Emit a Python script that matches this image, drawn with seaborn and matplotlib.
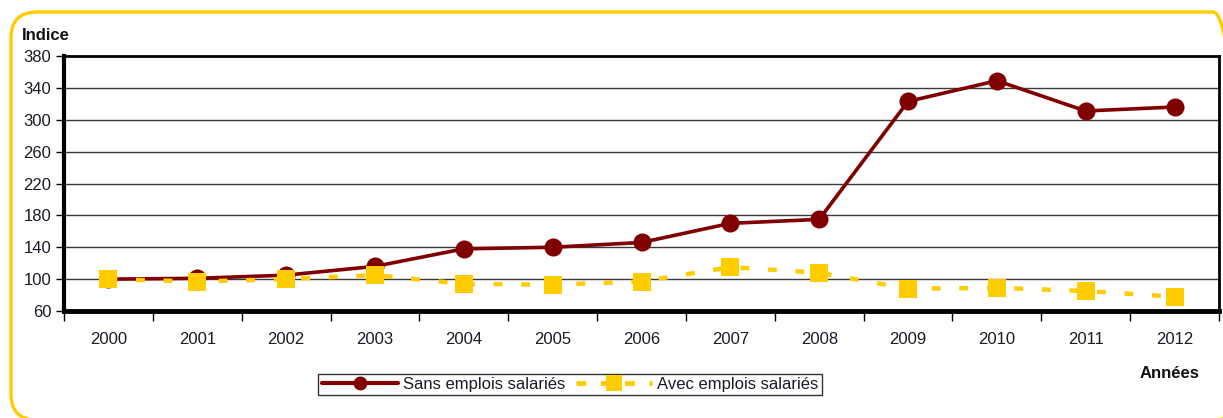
import matplotlib
matplotlib.use("Agg")
import matplotlib.pyplot as plt
import matplotlib.transforms as mtransforms
from matplotlib.patches import FancyBboxPatch
from matplotlib.lines import Line2D
import seaborn as sns
import pandas as pd
import numpy as np

# Index values by year
years = ["2000", "2001", "2002", "2003", "2004", "2005", "2006",
         "2007", "2008", "2009", "2010", "2011", "2012"]
sans_emplois = [100, 101, 105, 116, 138, 140, 146, 170, 175, 323, 349, 311, 316]
avec_emplois = [100, 97, 100, 105, 94, 93, 97, 115, 108, 88, 89, 85, 78]
y_ticks = [60, 100, 140, 180, 220, 260, 300, 340, 380]

label_sans = "Sans emplois salariés"
label_avec = "Avec emplois salariés"

RED = "#800000"
YELLOW = "#FFCC00"
TXT = "#1a1a2a"
FS = 12

sns.set_theme(style="white")
plt.rcParams["font.family"] = ["Liberation Sans", "DejaVu Sans"]

df = pd.DataFrame({
    "pos": np.arange(len(years)),
    "sans": sans_emplois,
    "avec": avec_emplois,
})

fig = plt.figure(figsize=(12.23, 4.18), dpi=100)
ax = fig.add_axes([64 / 1223, 1 - 311 / 418, (1219 - 64) / 1223, (311 - 56) / 418])

# Horizontal grid
for v in y_ticks[1:-1]:
    ax.axhline(v, color="#3a3a3a", lw=1.0, zorder=0)

sns.lineplot(data=df, x="pos", y="sans", ax=ax, color=RED, lw=2.6,
             marker="o", markersize=13, markeredgewidth=0, zorder=3)
sns.lineplot(data=df, x="pos", y="avec", ax=ax, color=YELLOW, lw=3.2,
             marker="s", markersize=13, markeredgewidth=0, zorder=4,
             dashes=False)
ax.lines[-1].set_dashes((2, 4.2))

ax.set_xlim(-0.5, len(years) - 0.5)
ax.set_ylim(y_ticks[0], y_ticks[-1])
ax.set_xlabel("")
ax.set_ylabel("")

# Category ticks between years, labels centred on years
ax.set_xticks(np.arange(-0.5, len(years)), labels=[])
ax.set_xticks(np.arange(len(years)), labels=years, minor=True)
ax.tick_params(axis="x", which="major", direction="out", length=7, width=1,
               color="black", bottom=True)
ax.tick_params(axis="x", which="minor", length=0, pad=15, labelsize=FS,
               labelcolor=TXT)
ax.set_yticks(y_ticks)
ax.tick_params(axis="y", direction="out", length=6, width=1, color="black",
               left=True, pad=3, labelsize=FS, labelcolor=TXT)

for side, lw in [("left", 3), ("bottom", 3.5), ("top", 2), ("right", 2)]:
    ax.spines[side].set_visible(True)
    ax.spines[side].set_color("black")
    ax.spines[side].set_linewidth(lw)

fig.text(22 / 1223, 1 - 35 / 418, "Indice", fontsize=FS, fontweight="bold",
         va="center", ha="left", color="#111111")
fig.text(1170 / 1223, 1 - 374 / 418, "Années", fontsize=FS, fontweight="bold",
         va="center", ha="center", color="#111111")

handles = [
    Line2D([], [], color=RED, lw=3, marker="o", markersize=10,
           markeredgewidth=0),
    Line2D([], [], color=YELLOW, lw=3.5, marker="s", markersize=11,
           markeredgewidth=0, dashes=(2, 3)),
]
leg = fig.legend(handles, [label_sans, label_avec], loc="center",
                 bbox_to_anchor=(570 / 1223, 1 - 384.5 / 418), ncol=2,
                 frameon=True, fancybox=False, fontsize=FS,
                 handlelength=4.6, handletextpad=0.3, columnspacing=0.6,
                 borderpad=0.2, borderaxespad=0)
leg.get_frame().set_edgecolor("black")
leg.get_frame().set_linewidth(1)
for t in leg.get_texts():
    t.set_color(TXT)

# Rounded yellow frame around the figure (runs past the right and bottom edges)
frame = FancyBboxPatch((11, -2), 1228, 408,
                       boxstyle="round,pad=0,rounding_size=26",
                       transform=mtransforms.IdentityTransform(),
                       facecolor="none", edgecolor=YELLOW, lw=2.4,
                       clip_on=False)
fig.patches.append(frame)

fig.savefig("out.png", dpi=100)
